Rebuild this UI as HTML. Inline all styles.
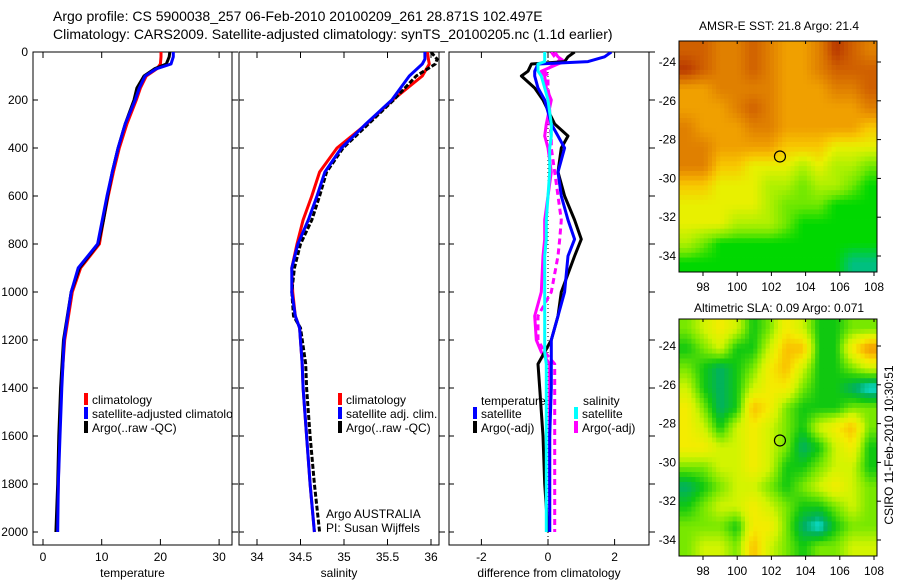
<!DOCTYPE html>
<html><head><meta charset="utf-8"><style>
body{margin:0;background:#fff;}
svg{font-family:"Liberation Sans",sans-serif;}
text{font-size:12px;fill:#000;}
</style></head><body>
<svg id="c" width="900" height="580" viewBox="0 0 900 580" xmlns="http://www.w3.org/2000/svg">
<text x="53" y="21" style="font-size:14px">Argo profile: CS 5900038_257 06-Feb-2010 20100209_261 28.871S 102.497E</text>
<text x="53" y="39" style="font-size:14px">Climatology: CARS2009. Satellite-adjusted climatology: synTS_20100205.nc (1.1d earlier)</text>
<text x="779" y="30" text-anchor="middle">AMSR-E SST: 21.8 Argo: 21.4</text>
<text x="779" y="312" text-anchor="middle">Altimetric SLA: 0.09 Argo: 0.071</text>
<text transform="translate(893,445) rotate(-90)" text-anchor="middle">CSIRO 11-Feb-2010 10:30:51</text>
<defs>
<clipPath id="cp1"><rect x="33" y="52" width="199" height="493"/></clipPath>
<clipPath id="cp2"><rect x="239" y="52" width="200" height="493"/></clipPath>
<clipPath id="cp3"><rect x="449" y="52" width="200" height="493"/></clipPath>
</defs>
</svg>
<script>
// ---- data ----
const tDepth=[0,20,50,70,100,150,200,300,400,500,600,700,800,900,1000,1200,1400,1600,1800,2000];
const tClim=[20.1,20.1,20.0,19.4,17.6,16.6,15.9,14.3,13.0,12.0,11.1,10.3,9.6,6.4,5.0,3.7,3.1,2.8,2.6,2.4];
const tSat=[22.2,22.2,21.8,19.3,17.4,16.4,15.7,14.0,12.8,11.8,10.9,10.1,9.3,6.0,4.8,3.6,3.2,2.9,2.6,2.5];
const tArgo=[21.6,21.5,21.0,19.0,17.2,16.0,15.5,14.0,12.8,11.8,11.0,10.3,9.4,6.2,4.8,3.5,3.0,2.7,2.5,2.2];
const sDepth=[0,30,50,100,200,300,400,500,600,700,800,900,1000,1100,1150,1300,1400,1600,1800,2000];
const sClim=[35.96,35.97,35.98,35.9,35.56,35.26,34.92,34.72,34.63,34.53,34.46,34.4,34.41,34.44,34.49,34.52,34.53,34.57,34.61,34.66];
const sSat=[35.93,35.93,35.9,35.75,35.55,35.25,34.97,34.78,34.69,34.59,34.47,34.4,34.4,34.44,34.49,34.52,34.53,34.57,34.61,34.66];
const sArgo=[36.0,36.07,36.05,35.83,35.57,35.28,34.99,34.8,34.72,34.63,34.5,34.43,34.4,34.42,34.5,34.56,34.57,34.61,34.66,34.72];
const dDepth=[0,20,40,50,80,100,150,200,300,350,400,500,600,700,780,850,1000,1100,1200,1250,1300,1400,1600,1800,2000];
const dTsat=[1.9,1.7,1.2,-0.3,-0.4,-0.4,-0.3,-0.1,0.1,0.3,0.5,0.3,0.4,0.6,0.8,0.6,0.5,0.3,0.1,0.1,0.1,0.1,0.05,0.05,0.05];
const dTargo=[0.8,0.6,0.5,-0.5,-0.6,-0.8,-0.4,-0.15,0.2,0.6,0.4,0.3,0.5,0.8,1.0,0.8,0.4,0.3,0.1,-0.1,-0.3,-0.25,-0.15,-0.1,0.0];
const dSsat=[-0.1,-0.1,-0.1,-0.3,-0.3,-0.2,-0.1,0.0,0.1,0.1,0.05,0.05,0.0,-0.05,-0.05,-0.1,-0.1,-0.1,-0.1,-0.1,-0.05,-0.05,-0.05,-0.05,-0.05];
const dSargo=[0.2,0.3,0.5,0.3,-0.2,-0.1,-0.05,0.1,-0.05,-0.1,0.0,0.1,0.0,-0.1,-0.1,-0.15,-0.2,-0.4,-0.35,-0.2,0.05,0.05,0.05,0.05,0.05];
const dSargo2=[0.1,0.2,0.35,0.2,-0.1,0.0,0.0,0.05,0.05,0.1,0.1,0.2,0.3,0.4,0.35,0.3,0.1,-0.3,-0.3,-0.1,0.2,0.2,0.2,0.2,0.2];
const depthTicks=[0,200,400,600,800,1000,1200,1400,1600,1800,2000];
const tTicks=[0,10,20,30];
const sTicks=[34,34.5,35,35.5,36];
const dTicks=[-2,0,2];
const lonTicks=[98,100,102,104,106,108];
const latTicks=[24,26,28,30,32,34];
const sstGrid=[
[8,8,7,7,8,7,6,6,7,9,8,7],[9,8,7,7,8,7,6,6,7,8,8,8],[6,6,7,7,7,7,6,6,6,7,7,8],[6,6,6,7,8,7,6,6,6,6,6,7],
[7,6,6,6,7,7,6,6,6,6,6,5],[7,7,6,6,6,6,5,5,5,4,4,4],[7,7,5,5,4,4,4,3,4,3,3,2],[5,5,4,4,4,3,3,2,3,3,2,1],
[4,4,4,4,4,3,2,2,2,1,1,1],[4,4,4,3,3,3,2,1,1,1,1,1],[3,2,1,1,1,1,1,1,1,1,1,1],[1,1,1,1,1,1,1,1,1,1,0,0]];
const slaGrid=[
[3,4,5,4,2,3,5,4,2,2,3,3],[2,3,4,2,2,4,6,6,2,2,5,7],[3,2,1,2,3,5,6,4,2,2,3,4],[4,2,1,2,4,5,5,3,2,2,1,0],
[5,3,1,2,6,5,3,2,2,2,3,3],[5,4,2,4,5,4,3,2,4,5,6,3],[5,5,4,4,5,4,3,1,2,4,5,2],[3,3,4,4,5,4,2,2,3,4,4,2],
[1,2,3,4,4,3,2,3,4,5,4,3],[2,3,4,4,5,4,3,2,2,3,4,3],[3,3,3,2,5,5,3,1,0,2,3,3],[3,4,4,3,6,4,3,2,3,3,4,4]];
const argoPos=[102.5,28.87];

const sstColors=[[0,192,128],[0,216,0],[112,232,0],[176,240,0],[232,240,0],[248,200,0],[240,160,0],[224,128,0],[208,96,0],[184,56,0]];
const slaColors=[[16,232,232],[0,176,100],[16,200,16],[120,232,0],[210,244,0],[244,236,0],[250,192,0],[240,150,0]];
const NS='http://www.w3.org/2000/svg';
const svg=document.getElementById('c');
function mk(tag,attrs,parent){const e=document.createElementNS(NS,tag);for(const k in attrs)e.setAttribute(k,attrs[k]);(parent||svg).appendChild(e);return e;}
const Y=d=>52+d*0.24;

function panel(x0,x1,xs,ticks,fmt,label,name,clip){
  const g=mk('g',{});
  
  
  const box=mk('rect',{x:x0,y:52,width:x1-x0,height:493,fill:'none',stroke:'#000','stroke-width':1},g);
  
  
  depthTicks.forEach(d=>{
    mk('line',{x1:x0,x2:x0+5,y1:Y(d),y2:Y(d),stroke:'#000'},g);
    mk('line',{x1:x1,x2:x1+6,y1:Y(d),y2:Y(d),stroke:'#000'},g);
  });
  ticks.forEach(v=>{
    const x=xs(v);
    mk('line',{x1:x,x2:x,y1:545,y2:539,stroke:'#000'},g);
    mk('line',{x1:x,x2:x,y1:52,y2:58,stroke:'#000'},g);
    const t=mk('text',{x:x,y:561,'text-anchor':'middle'},g);t.textContent=fmt(v);
    
    
  });
  const l=mk('text',{x:(x0+x1)/2,y:577,'text-anchor':'middle'},g);l.textContent=label;
  
  
  const inner=mk('g',{'clip-path':'url(#'+clip+')'},g);
  return inner;
}
function line(g,xs,vals,depths,color,name,dash){
  const pts=vals.map((v,i)=>xs(v).toFixed(1)+','+Y(depths[i]).toFixed(1)).join(' ');
  const p=mk('polyline',{points:pts,fill:'none',stroke:color,'stroke-width':3,'stroke-linejoin':'round'},g);
  if(dash)p.setAttribute('stroke-dasharray',dash);
  
  
}
function legend(g,x,y,color,txt){
  mk('rect',{x:x,y:y-11,width:4,height:12,fill:color},g);
  const t=mk('text',{x:x+8,y:y},g);t.textContent=txt;
  
  
}
depthTicks.forEach(d=>{const t=mk('text',{x:28,y:Y(d)+4,'text-anchor':'end'});t.textContent=d;
  
  });

const xT=v=>43+v*5.87;
const g1=panel(33,232,xT,tTicks,v=>v,'temperature','temperature-panel','cp1');
line(g1,xT,tClim,tDepth,'#f00','temp-climatology-line');
line(g1,xT,tArgo,tDepth,'#000','temp-argo-line');
line(g1,xT,tSat,tDepth,'#00f','temp-satellite-line');
legend(g1,84,404,'#f00','climatology');
legend(g1,84,418,'#00f','satellite-adjusted climatology');
legend(g1,84,432,'#000','Argo(..raw -QC)');

const xS=v=>257+(v-34)*87;
const g2=panel(239,439,xS,sTicks,v=>v,'salinity','salinity-panel','cp2');
line(g2,xS,sClim,sDepth,'#f00','sal-climatology-line');
line(g2,xS,sArgo,sDepth,'#000','sal-argo-line','5,2');
line(g2,xS,sSat,sDepth,'#00f','sal-satellite-line');
legend(g2,338,404,'#f00','climatology');
legend(g2,338,418,'#00f','satellite adj. clim.');
legend(g2,338,432,'#000','Argo(..raw -QC)');
const a1=mk('text',{x:326,y:518});a1.textContent='Argo AUSTRALIA';

const a2=mk('text',{x:326,y:532});a2.textContent='PI: Susan Wijffels';


const xD=v=>548+v*33.3;
const g3=panel(449,649,xD,dTicks,v=>v,'difference from climatology','difference-panel','cp3');
mk('line',{x1:xD(0),x2:xD(0),y1:52,y2:545,stroke:'#000','stroke-dasharray':'1,3'},g3);
line(g3,xD,dSargo2,dDepth,'#f0f','sal-argo-diff-dashed','6,4');
line(g3,xD,dSargo,dDepth,'#f0f','sal-argo-diff-line');
line(g3,xD,dTargo,dDepth,'#000','temp-argo-diff-line');
line(g3,xD,dTsat,dDepth,'#00f','temp-satellite-diff-line');
line(g3,xD,dSsat,dDepth,'#0ff','sal-satellite-diff-line');
const lt=mk('text',{x:481,y:405},g3);lt.textContent='temperature';

const ls=mk('text',{x:583,y:405},g3);ls.textContent='salinity';

legend(g3,473,418,'#00f','satellite');
legend(g3,473,432,'#000','Argo(-adj)');
legend(g3,574,418,'#0ff','satellite');
legend(g3,574,432,'#f0f','Argo(-adj)');

function colorAt(colors,v){
  const n=colors.length-1;v=Math.max(0,Math.min(n,v));
  const i=Math.min(n-1,Math.floor(v)),f=v-i;
  const a=colors[i],b=colors[i+1];
  return 'rgb('+a.map((c,k)=>Math.round(c+(b[k]-c)*f)).join(',')+')';
}
function sample(grid,r,c){
  const R=grid.length,C=grid[0].length;
  r=Math.max(0,Math.min(R-1,r));c=Math.max(0,Math.min(C-1,c));
  const r0=Math.floor(r),c0=Math.floor(c),r1=Math.min(R-1,r0+1),c1=Math.min(C-1,c0+1);
  const fr=r-r0,fc=c-c0;
  return grid[r0][c0]*(1-fr)*(1-fc)+grid[r0][c1]*(1-fr)*fc+grid[r1][c0]*fr*(1-fc)+grid[r1][c1]*fr*fc;
}
function map(y0,y1,lat24,grid,colors,name){
  const x0=679,x1=877;
  const lx=v=>703+(v-98)*17.1;
  const ly=v=>lat24+(v-24)*19.4;
  const g=mk('g',{});
  
  
  const rows=grid.length,cols=grid[0].length,sub=4;
  const cw=(x1-x0)/(cols*sub),ch=(y1-y0)/(rows*sub);
  for(let r=0;r<rows*sub;r++)for(let c=0;c<cols*sub;c++){
    const v=sample(grid,(r+0.5)/sub-0.5,(c+0.5)/sub-0.5);
    const cell=mk('rect',{x:(x0+c*cw).toFixed(2),y:(y0+r*ch).toFixed(2),width:(cw+0.4).toFixed(2),height:(ch+0.4).toFixed(2),fill:colorAt(colors,v)},g);
    
    
  }
  mk('rect',{x:x0,y:y0,width:x1-x0,height:y1-y0,fill:'none',stroke:'#000'},g);
  lonTicks.forEach(v=>{mk('line',{x1:lx(v),x2:lx(v),y1:y1,y2:y1+4,stroke:'#000'},g);
    mk('line',{x1:lx(v),x2:lx(v),y1:y0,y2:y0+3,stroke:'#000'},g);
    const t=mk('text',{x:lx(v),y:y1+19,'text-anchor':'middle'},g);t.textContent=v;
    });
  latTicks.forEach(v=>{mk('line',{x1:x1,x2:x1+4,y1:ly(v),y2:ly(v),stroke:'#000'},g);
    const t=mk('text',{x:676,y:ly(v)+4,'text-anchor':'end'},g);t.textContent='-'+v;
    });
  const c=mk('circle',{cx:lx(argoPos[0]),cy:ly(argoPos[1]),r:5.5,fill:'none',stroke:'#000','stroke-width':1.2},g);
  
  
}
map(41,272,62,sstGrid,sstColors,'sst-map');
map(319,556,346,slaGrid,slaColors,'sla-map');
</script>
</body></html>
